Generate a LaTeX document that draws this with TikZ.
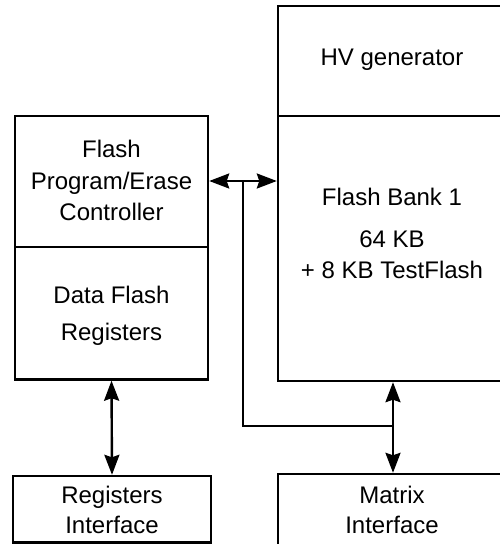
\documentclass[tikz,border=0pt]{standalone}
\usepackage{fontspec}
\setmainfont{Liberation Sans}
\usetikzlibrary{arrows.meta}
\tikzset{
  box/.style={draw, line width=2.4pt, inner sep=0pt, rectangle},
  lbl/.style={anchor=base, inner sep=0pt, font=\fontsize{24pt}{28pt}\selectfont},
  conn/.style={line width=2.4pt},
  tip/.tip={Stealth[length=20pt,width=15pt,inset=2.5pt]},
  darrow/.style={conn, tip-tip}
}
\begin{document}
\begin{tikzpicture}[x=1pt,y=-1pt]
\clip (0,0) rectangle (500,544);
\fill[white] (0,0) rectangle (500,544);
% boxes
\node[box, minimum width=228pt, minimum height=110pt] (hv) at (392,61) {};
\node[box, minimum width=228pt, minimum height=265pt] (bank) at (392,248.5) {};
\node[box, minimum width=193pt, minimum height=131pt] (ctrl) at (111.5,181.5) {};
\node[box, minimum width=193pt, minimum height=132.5pt] (dfr) at (111.5,313.25) {};
\node[box, minimum width=198pt, minimum height=66.5pt] (regif) at (112,509.25) {};
\node[box, minimum width=228pt, minimum height=86pt] (matif) at (392,517) {};
% texts
\node[lbl] (t1) at (392,65) {HV generator};
\node[lbl] (t2) at (392,205) {Flash Bank 1};
\node[lbl] (t3) at (392,247.5) {64 KB};
\node[lbl] (t4) at (392,278.5) {+ 8 KB TestFlash};
\node[lbl] (t5) at (111.5,157.5) {Flash};
\node[lbl] (t6) at (111.5,189) {Program/Erase};
\node[lbl] (t7) at (111.5,220.5) {Controller};
\node[lbl] (t8) at (111.5,303.5) {Data Flash};
\node[lbl] (t9) at (111.5,340) {Registers};
\node[lbl] (t10) at (112,503) {Registers};
\node[lbl] (t11) at (112,533) {Interface};
\node[lbl] (t12) at (392,503) {Matrix};
\node[lbl] (t13) at (392,533) {Interface};
% connectors
\coordinate (j1) at (243,181);
\coordinate (j3) at (393,426);
\draw[darrow] (ctrl.east |- j1) -- (bank.west |- j1);
\draw[darrow] (dfr.south) -- (regif.north);
\draw[conn] (j1) |- (j3);
\draw[darrow] (bank.south -| j3) -- (matif.north -| j3);
\end{tikzpicture}
\end{document}
